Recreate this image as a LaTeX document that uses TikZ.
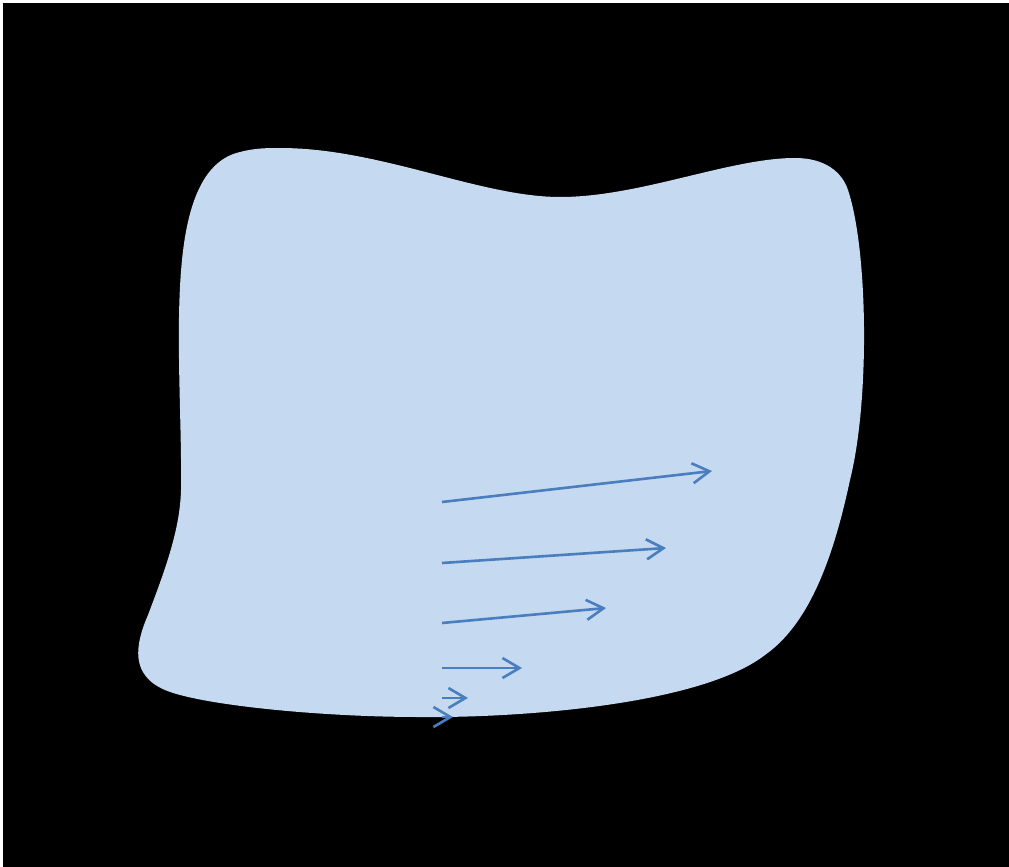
\documentclass[tikz,border=0pt]{standalone}
\usepackage{tikz}
\usetikzlibrary{arrows.meta}

\definecolor{blobfill}{RGB}{197,217,240}
\definecolor{arrowblue}{RGB}{74,126,190}

\begin{document}
\begin{tikzpicture}[
  x=1pt,y=-1pt,
  >={Straight Barb[length=17pt,width=20pt]},
  blob/.style={fill=blobfill,draw=none},
  velocity/.style={->,draw=arrowblue,line width=2.6pt}
]
  % frame
  \fill[white] (0,0) rectangle (1009,867);
  \fill[black] (3,3) rectangle (1009,867);
  \useasboundingbox (0,0) rectangle (1009,867);

  % body
  \path[blob] (280,148) .. controls (380,148) and (480,197) .. (560,197)
    .. controls (640,197) and (730,158) .. (795,158)
    .. controls (825,158) and (842,172) .. (848,190)
    .. controls (868,250) and (870,400) .. (850,480)
    .. controls (835,550) and (812,622) .. (765,655)
    .. controls (700,705) and (520,718) .. (420,717)
    .. controls (320,717) and (200,705) .. (165,690)
    .. controls (130,675) and (135,645) .. (148,615)
    .. controls (165,570) and (180,530) .. (181,490)
    .. controls (182,420) and (175,330) .. (182,260)
    .. controls (188,200) and (205,160) .. (240,152)
    .. controls (255,148) and (268,148) .. (280,148) -- cycle;

  % velocity profile
  \coordinate (s1) at (442,502); \coordinate (t1) at (712,471);
  \coordinate (s2) at (442,563); \coordinate (t2) at (666,548);
  \coordinate (s3) at (442,623); \coordinate (t3) at (606,608);
  \coordinate (s4) at (442,668); \coordinate (t4) at (522,668);
  \coordinate (s5) at (442,698); \coordinate (t5) at (468,698);
  \coordinate (s6) at (442,717); \coordinate (t6) at (453,717);
  \foreach \i in {1,...,6}
    \draw[velocity] (s\i) -- (t\i);
\end{tikzpicture}
\end{document}
